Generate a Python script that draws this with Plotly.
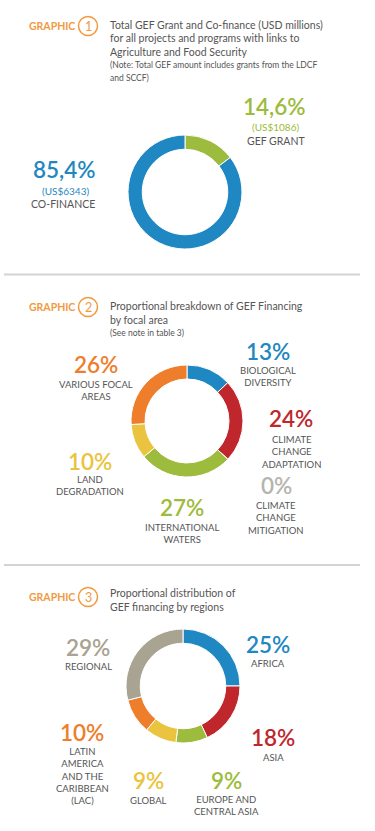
import plotly.graph_objects as go

W, H = 375, 831

# ---------------- data ----------------
g1_labels = ["GEF GRANT", "CO-FINANCE"]
g1_values = [1086, 6343]
g1_pct = ["14,6%", "85,4%"]
g1_usd = ["(US$1086)", "(US$6343)"]

g2_labels = ["BIOLOGICAL<br>DIVERSITY", "CLIMATE<br>CHANGE<br>ADAPTATION", "CLIMATE<br>CHANGE<br>MITIGATION",
             "INTERNATIONAL<br>WATERS", "LAND<br>DEGRADATION", "VARIOUS FOCAL<br>AREAS"]
g2_values = [13, 24, 0, 27, 10, 26]

g3_labels = ["AFRICA", "ASIA", "EUROPE AND<br>CENTRAL ASIA", "GLOBAL",
             "LATIN<br>AMERICA<br>AND THE<br>CARIBBEAN<br>(LAC)", "REGIONAL"]
g3_values = [25, 18, 9, 9, 10, 29]

titles = [
    ["Total GEF Grant and Co-finance (USD millions)", "for all projects and programs with links to",
     "Agriculture and Food Security"],
    ["Proportional breakdown of GEF Financing", "by focal area"],
    ["Proportional distribution of", "GEF financing by regions"],
]
notes = [
    ["(Note: Total GEF amount includes grants from the LDCF", "and SCCF)"],
    ["(See note in table 3)"],
    [],
]

# ---------------- styles ----------------
BLUE = "#1F87C1"
GREEN = "#9DBB3C"
RED = "#C0272D"
ORANGE = "#EE7E2C"
YELLOW = "#EAC43E"
TAUPE = "#A9A391"
LGRAY = "#B6B4AE"
TXT = "#555555"
HDR = "#F29A3F"
FONT = "Lato"

g1_colors = [GREEN, BLUE]
g2_colors = [BLUE, RED, LGRAY, GREEN, YELLOW, ORANGE]
g3_colors = [BLUE, RED, GREEN, YELLOW, ORANGE, TAUPE]


def px(x):
    return x / W


def py(y):
    return 1 - y / H


def dom(cx, cy, r):
    return dict(x=[px(cx - r), px(cx + r)], y=[py(cy + r), py(cy - r)])


fig = go.Figure()
for vals, labs, cols, (cx, cy, r) in [
    (g1_values, g1_labels, g1_colors, (185, 192, 57)),
    (g2_values, g2_labels, g2_colors, (187, 421, 56)),
    (g3_values, g3_labels, g3_colors, (183, 686, 57)),
]:
    fig.add_trace(go.Pie(
        values=vals, labels=labs, hole=0.75, sort=False, direction="clockwise",
        rotation=0, textinfo="none", hoverinfo="label+percent",
        marker=dict(colors=cols, line=dict(color="white", width=1)),
        domain=dom(cx, cy, r), showlegend=False,
    ))

ann = []
shapes = []


def text(x, y, s, size, color, bold=False, anchor="center", yanchor="middle", weight=None):
    f = dict(family=FONT, size=size, color=color)
    if weight:
        f["weight"] = weight
    ann.append(dict(x=px(x), y=py(y), xref="paper", yref="paper", text=("<b>%s</b>" % s) if bold else s,
                    showarrow=False, xanchor=anchor, yanchor=yanchor, align=anchor if anchor != "center" else "center",
                    font=f))


# headers
for i, (hy, lines, nlines) in enumerate([(26, titles[0], notes[0]), (307, titles[1], notes[1]), (597, titles[2], notes[2])]):
    text(27, hy, "GRAPHIC", 10.5, HDR, bold=True, anchor="left")
    shapes.append(dict(type="circle", xref="paper", yref="paper", x0=px(78.5), x1=px(97.5),
                       y0=py(hy + 9.5), y1=py(hy - 9.5), line=dict(color=HDR, width=1.5)))
    text(88, hy, str(i + 1), 12.5, HDR)
    ty0 = hy - 1
    if i == 2:
        ty0 = hy - 4
    for k, l in enumerate(lines):
        text(108, ty0 + 13.5 * k, l, 10.5, TXT, anchor="left")
    for k, l in enumerate(nlines):
        text(108, ty0 + 13.5 * len(lines) + 13 * k - 0.5, l, 8.5, TXT, anchor="left")

# separators
for sy in [274.5, 565]:
    shapes.append(dict(type="line", xref="paper", yref="paper", x0=px(4), x1=px(360), y0=py(sy), y1=py(sy),
                       line=dict(color="#D3D3D3", width=2)))

PSZ = 22.5
LSZ = 9.5
DY = -3  # shift of percent text box to centre the digits


def pct(x, y, s, col, dy=DY):
    text(x, y + dy, s, PSZ, col, weight=600)


# graphic 1 labels
pct(274, 110, g1_pct[0], GREEN, -4)
text(275, 127, g1_usd[0], 10, GREEN)
text(276, 141, g1_labels[0], 10.5, TXT)
pct(64, 174, g1_pct[1], BLUE, -4)
text(65, 191, g1_usd[1], 10, BLUE)
text(63, 204, g1_labels[1], 10.5, TXT)

# graphic 2 labels
g2_pos = [(268, 354, 369), (291, 421, 438), (276, 488, 504), (182, 510, 526), (90, 464, 478), (96, 368, 383)]
for v, lab, col, (x, yp, yl) in zip(g2_values, g2_labels, g2_colors, g2_pos):
    pct(x, yp, "%d%%" % v, col)
    text(x, yl - 6.5, lab, LSZ, TXT, yanchor="top")

# graphic 3 labels
g3_pos = [(268, 647, 662), (273, 740, 756), (226, 783, 798), (148, 783, 799), (82, 735, 750), (88, 650, 665)]
for v, lab, col, (x, yp, yl) in zip(g3_values, g3_labels, g3_colors, g3_pos):
    pct(x, yp, "%d%%" % v, col)
    text(x, yl - 6.5, lab, LSZ, TXT, yanchor="top")

fig.update_layout(width=W, height=H, autosize=False, margin=dict(l=0, r=0, t=0, b=0),
                  paper_bgcolor="white", plot_bgcolor="white", annotations=ann, shapes=shapes,
                  font=dict(family=FONT))
fig.write_html("out.html", config={"displayModeBar": False})
